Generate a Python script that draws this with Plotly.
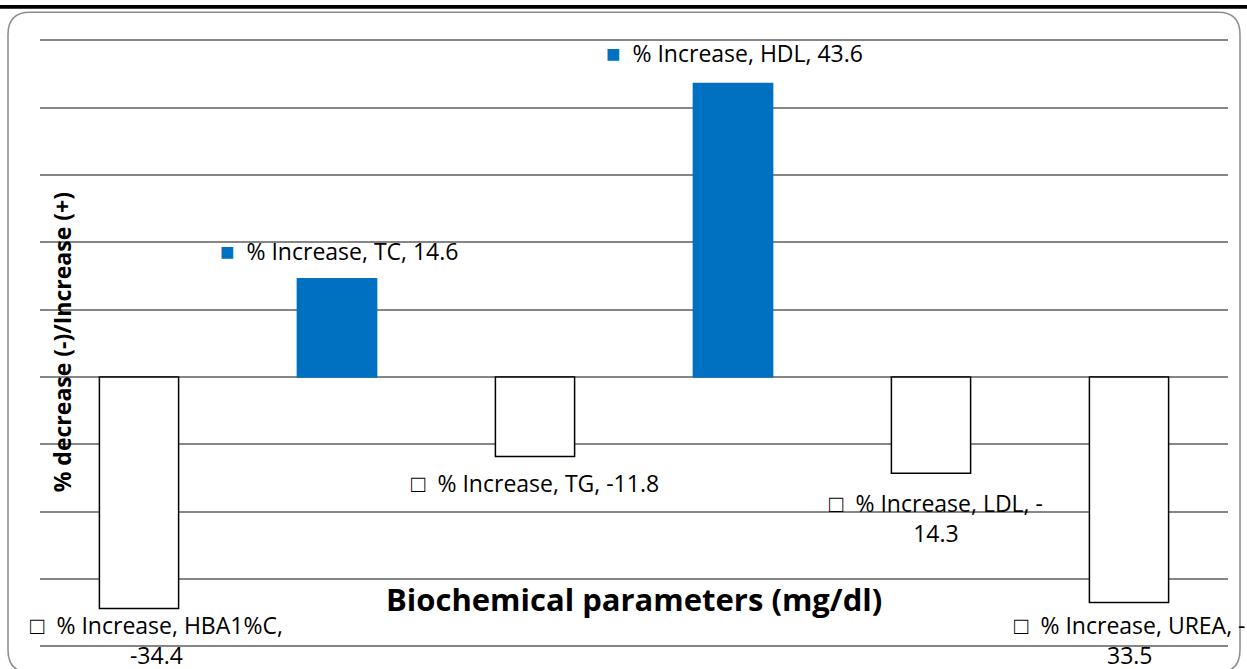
import plotly.graph_objects as go

categories = ["HBA1%C", "TC", "TG", "HDL", "LDL", "UREA"]
values = [-34.4, 14.6, -11.8, 43.6, -14.3, -33.5]
series_name = "% Increase"
label_texts = [
    "% Increase, HBA1%C,<br>-34.4",
    "% Increase, TC, 14.6",
    "% Increase, TG, -11.8",
    "% Increase, HDL, 43.6",
    "% Increase, LDL, -<br>14.3",
    "% Increase, UREA, -<br>33.5",
]
y_min, y_max, y_step = -40, 50, 10
# label placement offsets (pixels)
label_yshift = [3, 10, -8, 12, -11, -3]
label_xshift = [17, 2, 0, 1, 5, 1]

W, H = 1247, 669
ML, MR = 40, 19
MT, MB = 36.63, 16.27
BLUE = "#0070C0"
GRID = "#868686"
FONT = "Open Sans"

def px(x):
    return (x - ML) / (W - ML - MR)

def py(y):
    return (H - MB - y) / (H - MT - MB)

xs = list(range(len(categories)))
fill = [BLUE if v > 0 else "white" for v in values]
edge = [BLUE if v > 0 else "black" for v in values]

fig = go.Figure()
fig.add_trace(go.Bar(
    x=xs, y=values, name=series_name,
    marker=dict(color=fill, line=dict(color=edge, width=1.5)),
    width=0.4, hoverinfo="skip",
))

annotations = []
for i, (v, t) in enumerate(zip(values, label_texts)):
    if v > 0:
        key = f'<span style="color:{BLUE};font-size:24px">■</span>'
    else:
        key = '<span style="font-size:24px">□</span>'
    text = key + "  " + t
    annotations.append(dict(
        x=i, y=v, text=text, showarrow=False,
        yanchor="bottom" if v > 0 else "top",
        yshift=label_yshift[i], xshift=label_xshift[i],
        font=dict(family=FONT, size=23, color="black"),
    ))

annotations.append(dict(xref="paper", yref="paper", x=px(634), y=py(622),
                        text="<b>Biochemical parameters (mg/dl)</b>",
                        showarrow=False, font=dict(family=FONT, size=31, color="black")))
annotations.append(dict(xref="paper", yref="paper", x=px(62), y=py(342),
                        xanchor="center", yanchor="middle",
                        text="<b>% decrease (-)/Increase (+)</b>", textangle=-90,
                        showarrow=False, font=dict(family=FONT, size=23, color="black")))

# rounded frame path
l, r, t, b = 8, 1240, 12, 672
rad = 22
path = (f"M {px(l)},{py(t+rad)} Q {px(l)},{py(t)} {px(l+rad)},{py(t)} "
        f"L {px(r-rad)},{py(t)} Q {px(r)},{py(t)} {px(r)},{py(t+rad)} "
        f"L {px(r)},{py(b-rad)} Q {px(r)},{py(b)} {px(r-rad)},{py(b)} "
        f"L {px(l+rad)},{py(b)} Q {px(l)},{py(b)} {px(l)},{py(b-rad)} Z")

shapes = [
    dict(type="path", xref="paper", yref="paper", path=path, line=dict(color="#8c8c8c", width=1.5), layer="below"),
    dict(type="rect", xref="paper", yref="paper", x0=px(-5), x1=px(1252), y0=py(8.5), y1=py(4.5),
         fillcolor="black", line=dict(width=0)),
    # bottom gridline (axis minimum), drawn in paper space
    dict(type="line", xref="paper", yref="paper", x0=0, x1=1, y0=py(646), y1=py(646),
         line=dict(color=GRID, width=1.5), layer="above"),
]

fig.update_layout(
    width=W, height=H,
    margin=dict(l=ML, r=MR, t=MT, b=MB, autoexpand=False),
    paper_bgcolor="white", plot_bgcolor="white",
    showlegend=False,
    xaxis=dict(range=[-0.5, 5.5], showticklabels=False, showgrid=False, zeroline=False, ticks="",
               showline=False, automargin=False),
    yaxis=dict(range=[y_min - 1, y_max + 0.5], tickmode="linear", tick0=0, dtick=y_step,
               showticklabels=False, showgrid=True, gridcolor=GRID, gridwidth=1.5,
               zeroline=False, ticks="", showline=False, automargin=False),
    annotations=annotations,
    shapes=shapes,
)

fig.write_html("out.html", config={"displayModeBar": False},
               post_script="document.body.style.margin='0';document.body.style.padding='0';document.body.style.overflow='hidden';")
